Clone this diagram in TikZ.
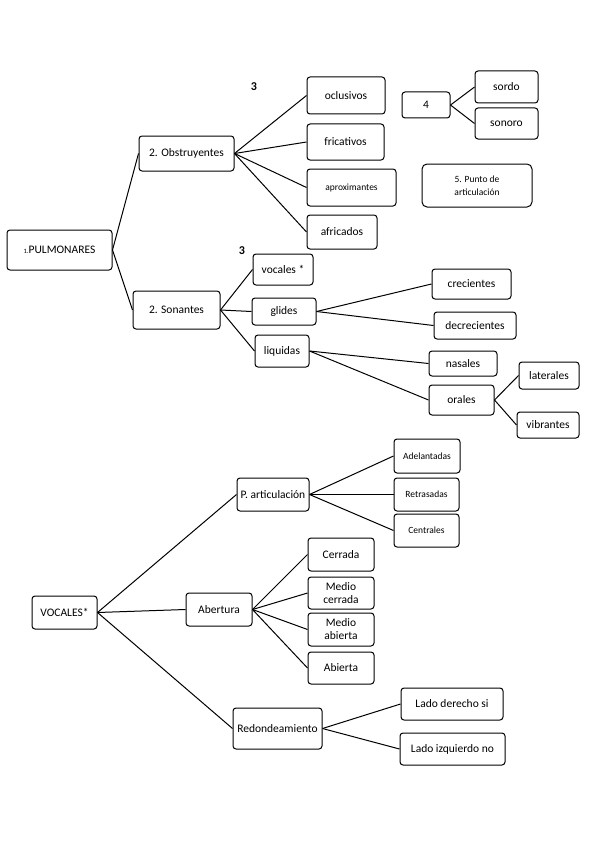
\documentclass[tikz,border=0pt]{standalone}
\usepackage{fontspec}
\setmainfont{Carlito}
\usepackage{tikz}
\usetikzlibrary{positioning}

\begin{document}
\begin{tikzpicture}[
  x=1pt, y=-1pt,
  font=\fontsize{11.5}{13}\selectfont,
  box/.style={
    draw, rounded corners=3pt,
    line width=1pt, align=center,
    inner sep=1pt
  },
  sz/.style 2 args={
    minimum width=#1pt, minimum height=#2pt
  },
  small/.style={font=\fontsize{9.5}{12.5}\selectfont},
  link/.style={line width=1pt},
  num/.style={font=\fontsize{12}{14}\selectfont\bfseries}
]
\useasboundingbox (0,0) rectangle (599,848);

% pulmonares
\node[box, sz={105}{40}] (pulm) at (59.5,250)
  {{\fontsize{6.5}{7}\selectfont 1.}PULMONARES};
\node[box, sz={95}{35}] (obs) at (186.5,153.5)
  {2. Obstruyentes};
\node[box, sz={87}{38}] (son) at (176.5,310)
  {2. Sonantes};

\node[num] (n3a) at (254,87) {3};
\node[num] (n3b) at (242,251) {3};

\node[box, sz={78}{37}] (ocl) at (346,95.5) {oclusivos};
\node[box, sz={77}{36}] (fric) at (345.5,142) {fricativos};
\node[box, small, sz={89}{37}] (aprox) at (351.5,187.5)
  {aproximantes};
\node[box, sz={70}{34}] (afric) at (342,232) {africados};

\node[box, sz={48}{26}] (cuatro) at (426,105) {4};
\node[box, sz={63}{32}] (sordo) at (506.5,87) {sordo};
\node[box, sz={63}{31}] (sonoro) at (506.5,123.5) {sonoro};
\node[box, small, sz={110}{43}, rounded corners=5pt] (punto)
  at (477,185.5) {5. Punto de\\articulación};

\node[box, sz={60}{31}] (voc) at (283,269.5) {vocales *};
\node[box, sz={64}{27}] (glid) at (284,311.5) {glides};
\node[box, sz={54}{32}] (liq) at (282,351) {liquidas};

\node[box, sz={79}{30}] (crec) at (471.5,284) {crecientes};
\node[box, sz={82}{27}] (decrec) at (475,325.5) {decrecientes};
\node[box, sz={68}{25}] (nas) at (463,363.5) {nasales};
\node[box, sz={65}{30}] (oral) at (461.5,400) {orales};
\node[box, sz={60}{27}] (lat) at (549,375.5) {laterales};
\node[box, sz={62}{26}] (vib) at (548,425) {vibrantes};

\draw[link] (pulm.east) -- (obs.west);
\draw[link] (pulm.east) -- (son.west);
\foreach \t in {ocl,fric,aprox,afric}
  \draw[link] (obs.east) -- (\t.west);
\draw[link] (cuatro.east) -- (sordo.west);
\draw[link] (cuatro.east) -- (sonoro.west);
\foreach \t in {voc,glid,liq}
  \draw[link] (son.east) -- (\t.west);
\draw[link] (glid.east) -- (crec.west);
\draw[link] (glid.east) -- (decrec.west);
\draw[link] (liq.east) -- (nas.west);
\draw[link] (liq.east) -- (oral.west);
\draw[link] (oral.east) -- (lat.west);
\draw[link] (oral.east) -- (vib.west);

% vocales
\node[box, sz={65}{33}] (vocs) at (64.5,612.5) {VOCALES*};
\node[box, sz={72}{33}] (part) at (273,494.5) {P. articulación};
\node[box, sz={66}{33}] (aber) at (219,609.5) {Abertura};
\node[box, sz={89}{41}] (redon) at (277.5,728.5) {Redondeamiento};

\node[box, small, sz={66}{34}] (adel) at (427,456) {Adelantadas};
\node[box, small, sz={65}{33}] (retr) at (426.5,494.5) {Retrasadas};
\node[box, small, sz={65}{33}] (centr) at (426.5,530.5) {Centrales};

\node[box, sz={66}{33}] (cerr) at (341,554.5) {Cerrada};
\node[box, sz={66}{32}] (mcerr) at (341,593) {Medio\\cerrada};
\node[box, sz={66}{33}] (mab) at (341,629.5) {Medio\\abierta};
\node[box, sz={66}{32}] (ab) at (341,668) {Abierta};

\node[box, sz={102}{32}] (der) at (452,704) {Lado derecho si};
\node[box, sz={105}{32}] (izq) at (452.5,749) {Lado izquierdo no};

\foreach \t in {part,aber,redon}
  \draw[link] (vocs.east) -- (\t.west);
\foreach \t in {adel,retr,centr}
  \draw[link] (part.east) -- (\t.west);
\foreach \t in {cerr,mcerr,mab,ab}
  \draw[link] (aber.east) -- (\t.west);
\draw[link] (redon.east) -- (der.west);
\draw[link] (redon.east) -- (izq.west);
\end{tikzpicture}
\end{document}
